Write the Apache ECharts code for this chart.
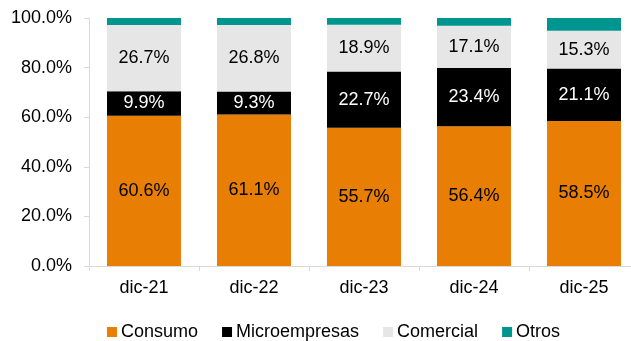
<!DOCTYPE html>
<html><head><meta charset="utf-8">
<script src="https://cdn.jsdelivr.net/npm/echarts@6/dist/echarts.min.js"></script>
<style>html,body{margin:0;padding:0;background:#fff;overflow:hidden;width:631px;height:341px}#c{width:642px;height:341px}</style>
</head><body><div id="c"></div>
<script>
const categories = ['dic-21','dic-22','dic-23','dic-24','dic-25'];
const consumo = [60.6, 61.1, 55.7, 56.4, 58.5];
const micro = [9.9, 9.3, 22.7, 23.4, 21.1];
const comercial = [26.7, 26.8, 18.9, 17.1, 15.3];
const otros = [2.8, 2.8, 2.7, 3.1, 5.1];
const yTicks = [0, 20, 40, 60, 80, 100];

const font = 'Liberation Sans, Arial, sans-serif';
function mk(name, data, color, labelColor, showLabel){
  return {
    name, type:'bar', stack:'t', data, barWidth:74,
    itemStyle:{color},
    label:{show:showLabel, position:'inside', color:labelColor, fontFamily:font, fontSize:18,
      formatter:p=>p.value.toFixed(1)+'%'}
  };
}
const chart = echarts.init(document.getElementById('c'));
chart.setOption({
  animation:false,
  textStyle:{fontFamily:font},
  grid:{left:89, top:18, width:550, height:248},
  legend:{left:102, top:318, itemWidth:10, itemHeight:10, itemGap:24, icon:'rect',
    textStyle:{fontFamily:font, fontSize:18, color:'#000', padding:[0,0,0,-1]},
    data:['Consumo','Microempresas','Comercial','Otros']},
  xAxis:{type:'category', data:categories,
    axisLine:{lineStyle:{color:'#d9d9d9'}},
    axisTick:{show:true, length:5, lineStyle:{color:'#d9d9d9'}},
    axisLabel:{fontFamily:font, fontSize:18, color:'#000', margin:13}},
  yAxis:{type:'value', min:yTicks[0], max:yTicks[yTicks.length-1], interval:20,
    axisLine:{show:true, lineStyle:{color:'#d9d9d9'}},
    axisTick:{show:true, length:5, lineStyle:{color:'#d9d9d9'}},
    splitLine:{show:false},
    axisLabel:{fontFamily:font, fontSize:18, color:'#000', margin:17, formatter:v=>v.toFixed(1)+'%'}},
  series:[
    mk('Consumo', consumo, '#E87E04', '#000', true),
    mk('Microempresas', micro, '#000000', '#fff', true),
    mk('Comercial', comercial, '#E6E6E6', '#000', true),
    mk('Otros', otros, '#009690', '#000', false)
  ]
});
</script></body></html>
